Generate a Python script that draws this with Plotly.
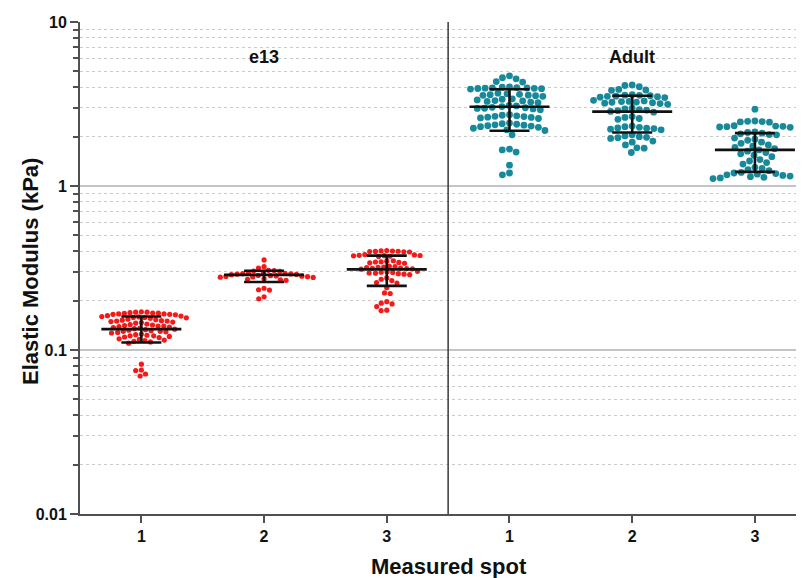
import numpy as np
import plotly.graph_objects as go

# ---------------- data ----------------
group_names = ["e13", "e13", "e13", "Adult", "Adult", "Adult"]
positions = [0, 1, 2, 3, 4, 5]
tick_labels = ["1", "2", "3", "1", "2", "3"]

e13_1 = [0.168, 0.170, 0.166, 0.169, 0.167, 0.165, 0.171, 0.164, 0.168, 0.166, 0.170, 0.165,
         0.160, 0.158, 0.161, 0.159, 0.157, 0.162, 0.156, 0.158,
         0.150, 0.152, 0.148, 0.151, 0.149, 0.153, 0.147, 0.150, 0.154, 0.146,
         0.140, 0.142, 0.138, 0.141, 0.139, 0.143, 0.137, 0.140, 0.144, 0.136,
         0.132, 0.130, 0.133, 0.131, 0.129, 0.134, 0.128, 0.130, 0.135, 0.127,
         0.122, 0.124, 0.120, 0.123, 0.121, 0.125, 0.119, 0.122,
         0.115, 0.113, 0.117, 0.112, 0.116, 0.110, 0.114,
         0.082, 0.075, 0.0755, 0.0714, 0.0694]
e13_2 = [0.354, 0.322, 0.316,
         0.305, 0.303, 0.306, 0.302,
         0.292, 0.290, 0.294, 0.288, 0.295, 0.291, 0.289, 0.293,
         0.282, 0.280, 0.284, 0.278, 0.285, 0.281, 0.279, 0.283, 0.277,
         0.270, 0.268, 0.272, 0.266,
         0.238, 0.233, 0.232, 0.211, 0.205]
e13_3 = [0.400, 0.402, 0.398, 0.396, 0.404, 0.399, 0.401, 0.397,
         0.378, 0.375, 0.380, 0.373, 0.377, 0.372, 0.382, 0.376,
         0.345, 0.342, 0.348, 0.340, 0.350, 0.344, 0.338,
         0.318, 0.315, 0.320, 0.313, 0.322, 0.316, 0.311, 0.319, 0.324, 0.314,
         0.297, 0.294, 0.300, 0.292, 0.298, 0.290, 0.302, 0.295, 0.288,
         0.275, 0.270, 0.265, 0.258, 0.256, 0.240,
         0.223, 0.221,
         0.197, 0.193, 0.191, 0.184, 0.175, 0.174]
adult_1 = [4.70, 4.57, 4.50, 4.33, 4.30,
           3.92, 3.94, 3.96, 3.98, 4.00, 3.90, 3.93, 3.97, 4.02, 3.95,
           3.55, 3.58, 3.62, 3.65, 3.60, 3.52, 3.68, 3.57,
           3.25, 3.30, 3.35, 3.28, 3.32, 3.38, 3.22, 3.40,
           2.95, 3.00, 3.05, 2.98, 3.02, 3.08, 2.92, 3.10, 2.97,
           2.60, 2.65, 2.70, 2.62, 2.68, 2.58, 2.72, 2.66, 2.63,
           2.30, 2.35, 2.38, 2.32, 2.40, 2.28, 2.36, 2.42, 2.33, 2.25,
           2.18, 2.20,
           2.05, 1.68, 1.66, 1.61, 1.34, 1.20, 1.17]
adult_2 = [4.13, 4.10, 4.03, 3.88, 3.85, 3.83,
           3.50, 3.52, 3.55, 3.58, 3.48, 3.60, 3.53, 3.46, 3.57,
           3.20, 3.25, 3.28, 3.22, 3.30, 3.18, 3.27, 3.33, 3.15, 3.24,
           2.85, 2.90, 2.95, 2.88, 2.92, 2.82, 2.98,
           2.55, 2.62, 2.58, 2.65,
           2.25, 2.28, 2.22, 2.30, 2.26, 2.20, 2.32, 2.24,
           1.98, 2.02, 1.95, 2.05, 2.00, 1.97,
           1.88, 1.85, 1.78, 1.71, 1.70, 1.60]
adult_3 = [2.94,
           2.47, 2.48, 2.46, 2.49, 2.45,
           2.30, 2.32, 2.28, 2.31, 2.29, 2.33,
           2.10, 2.12, 2.08, 2.05, 2.14, 2.06,
           1.96, 1.93, 1.90,
           1.85, 1.82, 1.78, 1.75, 1.72, 1.69, 1.66, 1.63, 1.60, 1.57, 1.54, 1.51,
           1.45, 1.42, 1.39, 1.36,
           1.30, 1.28, 1.26, 1.24,
           1.20, 1.18, 1.16, 1.14, 1.12, 1.11, 1.19, 1.15, 1.13, 1.17, 1.21]

series = [e13_1, e13_2, e13_3, adult_1, adult_2, adult_3]
means = [0.134, 0.287, 0.310, 3.04, 2.84, 1.66]
sd_low = [0.111, 0.260, 0.246, 2.17, 2.12, 1.22]
sd_high = [0.160, 0.304, 0.376, 3.89, 3.55, 2.10]

colors = ["#f51a1a"] * 3 + ["#17899a"] * 3
sizes = [5.2] * 3 + [6.8] * 3

# ---------------- layout geometry ----------------
# page body has an 8px margin, so the figure is placed at (8, 8)
OFF = 8
W, H = 804 - OFF, 578 - OFF
ML, MR, MT, MB = 80 - OFF, 0, 22 - OFF, 64
PW, PH = W - ML - MR, H - MT - MB
XR = [-0.5, 5.4]
YR = [-2, 1]
px_per_x = PW / (XR[1] - XR[0])
px_per_dec = PH / (YR[1] - YR[0])


def px_to_paper_x(px):
    return (px - 80) / PW


def px_to_paper_y(py):
    return (514 - py) / PH


def swarm(values, d):
    ys = px_per_dec * np.log10(np.array(values, dtype=float))
    order = np.argsort(-ys, kind="stable")
    placed = []
    xs = np.zeros(len(ys))
    for i in order:
        y = ys[i]
        cands = [0.0]
        for (qx, qy) in placed:
            dy = y - qy
            if abs(dy) < d:
                dx = np.sqrt(d * d - dy * dy)
                cands += [qx + dx, qx - dx]
        cands.sort(key=lambda c: (abs(c), c))
        for c in cands:
            if all((c - qx) ** 2 + (y - qy) ** 2 >= d * d - 1e-6 for qx, qy in placed):
                xs[i] = c
                break
        placed.append((xs[i], y))
    return xs / px_per_x


fig = go.Figure()

for pos, vals, col, sz in zip(positions, series, colors, sizes):
    off = swarm(vals, sz + 0.5)
    fig.add_trace(go.Scatter(
        x=pos + off, y=vals, mode="markers",
        marker=dict(color=col, size=sz, line=dict(width=0)),
        showlegend=False, hoverinfo="y"))

# mean +/- SD bars
mean_half = 40 / px_per_x
cap_half = 20 / px_per_x
lx, ly = [], []
for pos, m, lo, hi in zip(positions, means, sd_low, sd_high):
    lx += [pos - mean_half, pos + mean_half, None]
    ly += [m, m, None]
    lx += [pos, pos, None]
    ly += [lo, hi, None]
    lx += [pos - cap_half, pos + cap_half, None]
    ly += [lo, lo, None]
    lx += [pos - cap_half, pos + cap_half, None]
    ly += [hi, hi, None]
fig.add_trace(go.Scatter(x=lx, y=ly, mode="lines",
                         line=dict(color="#111111", width=2.6),
                         showlegend=False, hoverinfo="skip"))

axis_col = "#505050"
font_fam = "Liberation Sans, Arial, sans-serif"

fig.update_layout(
    width=W, height=H,
    margin=dict(l=ML, r=MR, t=MT, b=MB, autoexpand=False),
    paper_bgcolor="white", plot_bgcolor="white",
    font=dict(family=font_fam, color="#111111"),
    xaxis=dict(
        range=XR, tickmode="array", tickvals=positions, ticktext=tick_labels,
        ticks="outside", ticklen=7, tickwidth=2, tickcolor=axis_col,
        showline=True, linewidth=2, linecolor=axis_col, mirror=False,
        showgrid=False, zeroline=False,
        tickfont=dict(size=16, family=font_fam, weight="bold", color="#111111"),
    ),
    yaxis=dict(
        type="log", range=YR, tick0=0, dtick=1,
        ticks="outside", ticklen=8, tickwidth=2, tickcolor=axis_col,
        showline=True, linewidth=2, linecolor=axis_col,
        showgrid=True, gridcolor="#c4c4c4", gridwidth=1.6,
        zeroline=False,
        tickfont=dict(size=16, family=font_fam, weight="bold", color="#111111"),
        minor=dict(dtick="D1", ticks="outside", ticklen=5, tickwidth=1.5,
                   tickcolor=axis_col, showgrid=True, gridcolor="#cacaca",
                   griddash="dot", gridwidth=1),
    ),
    shapes=[dict(type="line", xref="x", yref="paper", x0=2.5, x1=2.5, y0=0, y1=1,
                 line=dict(color="#444444", width=1.6))],
    annotations=[
        dict(text="e13", x=1, xref="x", y=px_to_paper_y(45), yref="paper",
             showarrow=False, font=dict(size=18, weight="bold", family=font_fam)),
        dict(text="Adult", x=4, xref="x", y=px_to_paper_y(45), yref="paper",
             showarrow=False, font=dict(size=18, weight="bold", family=font_fam)),
        dict(text="Measured spot", x=px_to_paper_x(449), xref="paper", xanchor="center",
             y=px_to_paper_y(566), yref="paper", yanchor="middle", showarrow=False,
             font=dict(size=22, weight="bold", family=font_fam)),
        dict(text="Elastic Modulus (kPa)", x=px_to_paper_x(30), xref="paper",
             xanchor="center", y=px_to_paper_y(272), yref="paper", yanchor="middle",
             showarrow=False, textangle=-90,
             font=dict(size=22, weight="bold", family=font_fam)),
    ],
)

fig.write_html("out.html")
